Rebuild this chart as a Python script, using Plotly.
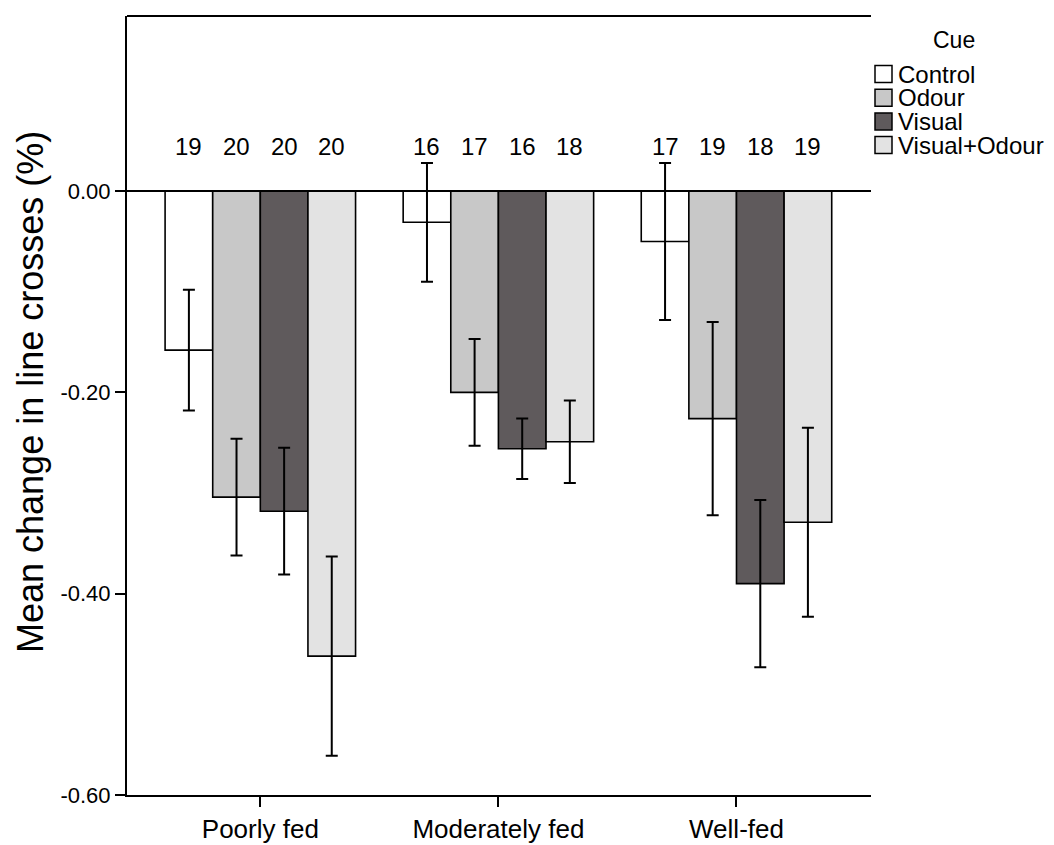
import plotly.graph_objects as go

# Feeding groups and cue conditions
groups = ["Poorly fed", "Moderately fed", "Well-fed"]
cues = ["Control", "Odour", "Visual", "Visual+Odour"]

# Mean change in line crosses, one list per cue (ordered by feeding group)
means = {
    "Control":      [-0.158, -0.031, -0.050],
    "Odour":        [-0.304, -0.200, -0.226],
    "Visual":       [-0.318, -0.256, -0.390],
    "Visual+Odour": [-0.462, -0.249, -0.329],
}
# Error bar half-widths
errors = {
    "Control":      [0.060, 0.059, 0.078],
    "Odour":        [0.058, 0.053, 0.096],
    "Visual":       [0.063, 0.030, 0.083],
    "Visual+Odour": [0.099, 0.041, 0.094],
}
# Sample sizes shown above each bar
counts = {
    "Control":      [19, 16, 17],
    "Odour":        [20, 17, 19],
    "Visual":       [20, 16, 18],
    "Visual+Odour": [20, 18, 19],
}
y_ticks = [-0.6, -0.4, -0.2, 0.0]

colors = {
    "Control": "#ffffff",
    "Odour": "#c8c8c8",
    "Visual": "#5f5a5c",
    "Visual+Odour": "#e3e3e3",
}

W, H = 1054, 845
ML, MR, MT, MB = 127, 183, 16, 50
plot_w = W - ML - MR
plot_h = H - MT - MB


def px_x(px):
    return (px - ML) / plot_w


def px_y(py):
    return (H - MB - py) / plot_h


bar_w = 0.2
font_family = "Liberation Sans, Arial, sans-serif"

fig = go.Figure()
annotations = []
shapes = []
for j, cue in enumerate(cues):
    xs = [i + (j - 1.5) * bar_w for i in range(len(groups))]
    fig.add_trace(go.Bar(
        x=xs, y=means[cue], width=bar_w, name=cue, showlegend=False,
        marker=dict(color=colors[cue], line=dict(color="#000000", width=1.6)),
        error_y=dict(type="data", array=errors[cue], visible=True,
                     color="#000000", thickness=2, width=6),
    ))
    for x, n in zip(xs, counts[cue]):
        annotations.append(dict(x=x, y=0.044, text=str(n), showarrow=False,
                                font=dict(size=24, color="#000000")))

# Legend drawn as swatches + labels to the right of the plot
annotations.append(dict(xref="paper", yref="paper", x=px_x(954), y=px_y(40),
                        text="Cue", showarrow=False, xanchor="center", yanchor="middle",
                        font=dict(size=23, color="#000000")))
for j, cue in enumerate(cues):
    yc = 74 + j * 23.7
    shapes.append(dict(type="rect", xref="paper", yref="paper",
                       x0=px_x(875), x1=px_x(892), y0=px_y(yc + 8.5), y1=px_y(yc - 8.5),
                       fillcolor=colors[cue], line=dict(color="#000000", width=1.5)))
    annotations.append(dict(xref="paper", yref="paper", x=px_x(896), y=px_y(yc),
                            text=cue, showarrow=False, xanchor="left", yanchor="middle",
                            font=dict(size=24, color="#000000")))

# Y-axis title
annotations.append(dict(xref="paper", yref="paper", x=px_x(30), y=px_y(392),
                        text="Mean change in line crosses (%)", textangle=-90,
                        showarrow=False, xanchor="center", yanchor="middle",
                        font=dict(size=36, color="#000000")))

# Top frame line
shapes.append(dict(type="line", xref="paper", yref="paper", x0=0, x1=1, y0=1, y1=1,
                   line=dict(color="#000000", width=2)))

fig.update_layout(
    width=W, height=H,
    margin=dict(l=ML, r=MR, t=MT, b=MB),
    paper_bgcolor="white", plot_bgcolor="white",
    font=dict(family=font_family, color="#000000"),
    barmode="overlay",
    showlegend=False,
    annotations=annotations,
    shapes=shapes,
    xaxis=dict(
        range=[-0.56, 2.565], tickmode="array",
        tickvals=list(range(len(groups))), ticktext=groups,
        ticks="outside", ticklen=10, tickwidth=2, tickcolor="#000000",
        showline=True, linecolor="#000000", linewidth=2,
        showgrid=False, zeroline=False, tickfont=dict(size=26),
        automargin=False,
    ),
    yaxis=dict(
        range=[-0.6, 0.174], tickmode="array", tickvals=y_ticks,
        ticktext=[f"{v:.2f}" for v in y_ticks],
        ticks="outside", ticklen=10, tickwidth=2, tickcolor="#000000",
        showline=True, linecolor="#000000", linewidth=2,
        showgrid=False, zeroline=True, zerolinecolor="#000000", zerolinewidth=2,
        tickfont=dict(size=22), automargin=False,
    ),
)

fig.write_html("out.html")
